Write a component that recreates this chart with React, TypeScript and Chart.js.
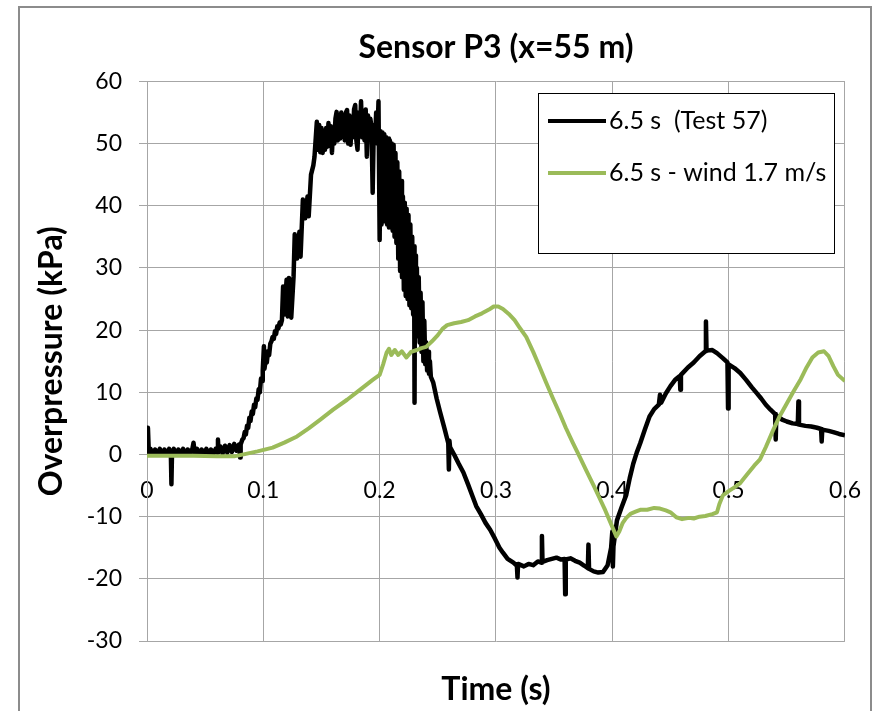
import React, { useEffect, useRef } from "react";
import { Chart, registerables } from "chart.js";

Chart.register(...registerables);

const FONT = "Lato";
const GRID = "#a6a6a6";
const BLACK = "#000000";
const GREEN = "#9bbb59";

const CHART_TITLE = "Sensor P3 (x=55 m)";
const X_TITLE = "Time (s)";
const Y_TITLE = "Overpressure (kPa)";
const SERIES_LABELS = ["6.5 s  (Test 57)", "6.5 s - wind 1.7 m/s"];

const X_TICKS = [0, 0.1, 0.2, 0.3, 0.4, 0.5, 0.6];
const Y_TICKS = [-30, -20, -10, 0, 10, 20, 30, 40, 50, 60];

// Test 57 (black) — [time s, overpressure kPa]
const test57Baseline: [number, number][] = [
  [0, 0.3], [0.0008, 4.3], [0.0016, 0.2], [0.003, 0.9], [0.005, 0.0], [0.007, 0.8], [0.009, 0.1],
  [0.011, 0.9], [0.013, 0.0], [0.015, 0.8], [0.017, 0.1], [0.019, 0.9], [0.0205, 0.2], [0.021, -4.8],
  [0.0215, 0.3], [0.023, 0.9], [0.025, 0.0], [0.027, 0.8], [0.029, 0.1], [0.031, 0.9], [0.033, 0.0],
  [0.035, 0.8], [0.037, 0.2], [0.039, 0.9], [0.04, 1.9], [0.041, 0.1], [0.043, 0.9], [0.045, 0.0],
  [0.047, 0.8], [0.049, 0.1], [0.051, 0.9], [0.053, 0.0], [0.055, 0.8], [0.057, 0.1], [0.059, 0.9],
  [0.0605, 0.3], [0.061, 2.4], [0.0615, 0.4], [0.063, 1.3], [0.065, 0.2], [0.067, 1.4], [0.069, 0.3],
  [0.071, 1.5], [0.073, 0.4], [0.075, 1.7], [0.077, 0.6], [0.079, 1.6], [0.0797, 0.4], [0.08, -0.5],
  [0.0805, 1.6], [0.082, 2.4],
];
const test57Rise: [number, number][] = [
  [0.083, 2.6], [0.084, 3.6], [0.085, 3.2], [0.086, 4.6], [0.087, 4.3], [0.088, 5.9], [0.089, 5.4],
  [0.09, 6.9], [0.091, 6.5], [0.092, 8.0], [0.093, 7.6], [0.094, 9.0], [0.095, 8.8], [0.096, 10.5],
  [0.097, 10.0], [0.098, 12.2], [0.099, 11.8], [0.0995, 13.5], [0.1005, 17.4], [0.101, 13.8],
  [0.102, 15.2], [0.103, 14.8], [0.104, 16.6], [0.105, 16.0], [0.106, 17.8], [0.107, 18.2], [0.108, 18.9],
  [0.109, 18.6], [0.11, 19.8], [0.111, 19.4], [0.112, 20.6], [0.113, 20.3], [0.114, 21.2], [0.115, 20.9],
  [0.116, 21.6], [0.117, 27.0], [0.118, 22.5], [0.12, 28.1], [0.121, 22.2], [0.122, 28.4], [0.124, 22.0],
  [0.126, 28.6], [0.127, 35.4], [0.129, 31.5], [0.131, 35.8], [0.132, 31.8], [0.134, 41.0], [0.136, 38.0],
  [0.138, 41.5], [0.139, 38.3], [0.141, 45.0], [0.143, 46.5], [0.144, 47.9], [0.146, 53.5],
];
const test57Peak: [number, number][] = [
  [0.147, 49.0], [0.148, 53.0], [0.149, 48.6], [0.15, 52.5], [0.151, 48.5], [0.152, 52.0], [0.153, 49.0],
  [0.154, 52.5], [0.155, 49.5], [0.156, 53.3], [0.157, 50.0], [0.158, 52.8], [0.159, 48.5], [0.16, 52.5],
  [0.161, 50.0], [0.162, 54.0], [0.163, 55.1], [0.164, 50.5], [0.165, 54.5], [0.166, 50.8], [0.167, 55.0],
  [0.168, 51.1], [0.169, 54.5], [0.17, 50.5], [0.171, 55.0], [0.172, 55.4], [0.173, 50.0], [0.174, 54.5],
  [0.175, 49.8], [0.176, 54.0], [0.177, 51.0], [0.178, 55.5], [0.179, 56.2], [0.18, 50.5], [0.181, 49.0],
  [0.182, 55.0], [0.183, 51.5], [0.184, 56.8], [0.185, 51.0], [0.186, 55.0], [0.187, 50.5], [0.188, 55.5],
  [0.189, 47.9], [0.19, 54.5], [0.191, 51.0], [0.192, 54.0], [0.193, 52.7], [0.194, 42.1], [0.195, 53.0],
  [0.196, 50.0], [0.197, 55.0], [0.198, 50.5], [0.199, 56.8],
];
const test57Decay: [number, number][] = [
  [0.2, 34.5], [0.2008, 52], [0.2016, 37], [0.2024, 51.8], [0.2032, 38], [0.204, 51.5], [0.2048, 37.5],
  [0.2056, 51], [0.2064, 37], [0.2072, 50.8], [0.208, 36.5], [0.2088, 50.5], [0.2096, 36.5], [0.2104, 50],
  [0.2112, 36], [0.212, 49.8], [0.2128, 35], [0.2136, 48.5], [0.2144, 34], [0.2152, 47], [0.216, 31.5],
  [0.2168, 45.5], [0.2176, 29.5], [0.2184, 44], [0.2192, 28.5], [0.22, 41.5], [0.2208, 26.5], [0.2216, 40.5],
  [0.2224, 25.5], [0.2232, 39.5], [0.224, 25], [0.2248, 38.5], [0.2256, 24], [0.2264, 37], [0.2272, 23.5],
  [0.228, 35], [0.2288, 22.5], [0.2296, 33.5], [0.23, 8.3], [0.2304, 32], [0.2312, 21], [0.232, 30],
  [0.2328, 19], [0.2336, 28.5], [0.2344, 18], [0.2352, 26], [0.236, 16.5], [0.2368, 24.5], [0.2376, 15],
  [0.2384, 21.5], [0.2392, 14.5], [0.24, 18], [0.2408, 13.5], [0.2416, 16.5], [0.2424, 13], [0.2432, 15],
  [0.244, 12.5], [0.246, 11.6],
];
const test57Negative: [number, number][] = [
  [0.249, 9.0], [0.252, 6.8], [0.256, 4.0], [0.259, 1.8], [0.2595, -2.4], [0.26, 2.2], [0.2605, 1.2],
  [0.264, 0.0], [0.268, -1.5], [0.272, -2.9], [0.276, -4.8], [0.28, -6.8], [0.283, -8.3], [0.287, -9.6],
  [0.291, -11.0], [0.295, -12.1], [0.299, -13.5], [0.303, -15.0], [0.306, -15.8], [0.31, -16.8],
  [0.315, -17.4], [0.318, -17.9], [0.3185, -19.8], [0.319, -17.6], [0.324, -18.0], [0.328, -17.6],
  [0.332, -17.8], [0.336, -17.2], [0.339, -17.4], [0.3395, -13.1], [0.34, -17.3], [0.344, -17.0],
  [0.348, -16.8], [0.352, -16.6], [0.356, -16.9], [0.359, -16.8], [0.3595, -22.5], [0.36, -16.9],
  [0.364, -16.7], [0.368, -17.1], [0.372, -17.4], [0.376, -17.9], [0.379, -18.3], [0.3795, -14.5],
  [0.38, -18.4], [0.384, -18.8], [0.388, -19.0], [0.392, -18.9], [0.396, -17.8], [0.399, -15.0],
  [0.4, -12.4], [0.4005, -18.0], [0.401, -14.8],
];
const test57Second: [number, number][] = [
  [0.404, -10.6], [0.408, -8.5], [0.412, -6.5], [0.415, -3.8], [0.418, -1.5], [0.421, 0.3], [0.424, 1.8],
  [0.428, 4.0], [0.432, 6.1], [0.436, 7.3], [0.44, 8.0], [0.441, 9.6], [0.442, 8.3], [0.446, 9.8],
  [0.45, 11.0], [0.454, 12.0], [0.458, 12.6], [0.4585, 10.4], [0.459, 12.8], [0.465, 14.0], [0.47, 14.8],
  [0.475, 15.8], [0.48, 16.6], [0.4805, 21.4], [0.481, 16.7], [0.486, 16.8], [0.49, 16.3], [0.495, 15.5],
  [0.499, 14.8], [0.4995, 7.4], [0.5, 14.5], [0.505, 13.9], [0.51, 13.1], [0.515, 12.0], [0.52, 10.8],
  [0.524, 9.9], [0.528, 9.0], [0.532, 8.0], [0.536, 7.2], [0.54, 6.5], [0.5405, 2.4], [0.541, 6.3],
  [0.546, 5.6], [0.55, 5.3], [0.555, 5.0], [0.5595, 4.9], [0.56, 8.5], [0.5605, 4.8], [0.566, 4.6],
  [0.571, 4.5], [0.576, 4.3], [0.5795, 4.1], [0.58, 2.1], [0.5805, 4.0], [0.586, 3.8], [0.59, 3.6],
  [0.595, 3.3], [0.6, 3.1],
];

// 6.5 s - wind 1.7 m/s (green) — [time s, overpressure kPa]
const windSeries: [number, number][] = [
  [0, -0.2], [0.02, -0.2], [0.04, -0.2], [0.06, -0.3], [0.075, -0.3], [0.085, 0.1], [0.095, 0.5],
  [0.108, 1.1], [0.118, 1.9], [0.129, 2.9], [0.139, 4.2], [0.149, 5.6], [0.16, 7.2], [0.172, 8.8],
  [0.183, 10.4], [0.194, 12.0], [0.2, 12.8], [0.203, 14.5], [0.206, 16.4], [0.208, 17.0], [0.21, 16.0],
  [0.213, 16.8], [0.216, 16.0], [0.219, 16.6], [0.223, 15.6], [0.227, 16.5], [0.232, 16.8], [0.236, 17.1],
  [0.24, 17.3], [0.245, 18.2], [0.25, 19.2], [0.254, 20.2], [0.258, 20.8], [0.264, 21.1], [0.27, 21.3],
  [0.276, 21.6], [0.282, 22.2], [0.288, 22.7], [0.294, 23.3], [0.298, 23.8], [0.302, 23.8], [0.306, 23.4],
  [0.311, 22.6], [0.316, 21.6], [0.32, 20.5], [0.326, 18.9], [0.332, 16.5], [0.337, 14.3], [0.343, 11.6],
  [0.349, 9.0], [0.355, 6.5], [0.36, 4.3], [0.366, 1.9], [0.372, -0.4], [0.378, -2.7], [0.384, -5.0],
  [0.389, -7.0], [0.394, -9.0], [0.399, -11.2], [0.4035, -13.2], [0.406, -12.4], [0.409, -11.0],
  [0.412, -10.2], [0.416, -9.5], [0.42, -9.2], [0.424, -8.9], [0.43, -8.9], [0.436, -8.6], [0.441, -8.7],
  [0.446, -9.0], [0.45, -9.3], [0.455, -10.1], [0.46, -10.4], [0.466, -10.2], [0.47, -10.3], [0.475, -10.0],
  [0.48, -9.9], [0.486, -9.6], [0.49, -9.3], [0.492, -8.0], [0.495, -6.6], [0.5, -5.9], [0.505, -5.3],
  [0.51, -4.6], [0.516, -3.2], [0.522, -1.8], [0.527, -0.8], [0.532, 1.2], [0.538, 3.8], [0.544, 6.2],
  [0.55, 8.2], [0.556, 10.2], [0.562, 12.1], [0.567, 14.0], [0.572, 15.6], [0.577, 16.4], [0.582, 16.6],
  [0.586, 15.8], [0.59, 14.2], [0.594, 12.8], [0.6, 11.8],
];

const test57Series = [
  ...test57Baseline, ...test57Rise, ...test57Peak, ...test57Decay, ...test57Negative, ...test57Second,
];

const toPoints = (arr: [number, number][]) => arr.map(([x, y]) => ({ x, y }));

const framePlugin = {
  id: "frame",
  beforeDraw(chart: any) {
    const { ctx, width, height } = chart;
    ctx.save();
    ctx.fillStyle = "#ffffff";
    ctx.fillRect(0, 0, width, height);
    ctx.strokeStyle = "#8c8c8c";
    ctx.lineWidth = 2;
    ctx.strokeRect(19, 7, 852, height + 20);
    ctx.restore();
  },
};

const legendPlugin = {
  id: "boxLegend",
  afterDraw(chart: any) {
    const { ctx } = chart;
    const left = 538, top = 93, w = 296, h = 160;
    ctx.save();
    ctx.fillStyle = "#ffffff";
    ctx.fillRect(left, top, w, h);
    ctx.strokeStyle = "#000000";
    ctx.lineWidth = 1;
    ctx.strokeRect(left + 0.5, top + 0.5, w, h);
    const rows = [121, 173];
    chart.data.datasets.forEach((ds: any, i: number) => {
      const y = rows[i];
      ctx.strokeStyle = ds.borderColor;
      ctx.lineWidth = 4;
      ctx.beginPath();
      ctx.moveTo(548, y);
      ctx.lineTo(606, y);
      ctx.stroke();
      ctx.fillStyle = "#000000";
      ctx.font = `25px ${FONT}`;
      ctx.textBaseline = "middle";
      ctx.textAlign = "left";
      ctx.fillText(ds.label, 609, y);
    });
    ctx.restore();
  },
};

export default function App() {
  const canvasRef = useRef<HTMLCanvasElement | null>(null);

  useEffect(() => {
    let chart: Chart | null = null;
    let cancelled = false;
    const make = () => {
      if (cancelled || !canvasRef.current) return;
      chart = new Chart(canvasRef.current, {
        type: "line",
        data: {
          datasets: [
            {
              label: SERIES_LABELS[0],
              data: toPoints(test57Series),
              borderColor: BLACK,
              backgroundColor: BLACK,
              borderWidth: 4.5,
              pointRadius: 0,
              tension: 0,
              borderJoinStyle: "round",
              order: 1,
            },
            {
              label: SERIES_LABELS[1],
              data: toPoints(windSeries),
              borderColor: GREEN,
              backgroundColor: GREEN,
              borderWidth: 4,
              pointRadius: 0,
              tension: 0,
              borderJoinStyle: "round",
              order: 0,
            },
          ],
        },
        options: {
          animation: false,
          responsive: false,
          devicePixelRatio: 1,
          layout: { padding: { left: 0, right: 38, top: 0, bottom: 0 } },
          scales: {
            x: {
              type: "linear",
              min: 0,
              max: 0.6,
              position: { y: 0 } as any,
              afterBuildTicks: (s: any) => {
                s.ticks = X_TICKS.map((value) => ({ value }));
              },
              afterFit: (s: any) => {
                s.height = 1;
              },
              grid: { color: GRID, lineWidth: 1, drawTicks: false },
              border: { display: true, color: GRID },
              ticks: {
                padding: 22,
                autoSkip: false,
                maxRotation: 0,
                color: "#000000",
                font: { family: FONT, size: 23 },
                callback: (v: any) => String(Number(Number(v).toFixed(1))),
              },
            },
            y: {
              type: "linear",
              min: -30,
              max: 60,
              afterBuildTicks: (s: any) => {
                s.ticks = Y_TICKS.map((value) => ({ value }));
              },
              afterFit: (s: any) => {
                s.width = 147;
              },
              grid: { color: GRID, lineWidth: 1, drawTicks: true, tickLength: 8 },
              border: { display: true, color: GRID },
              ticks: {
                padding: 17,
                color: "#000000",
                font: { family: FONT, size: 23 },
              },
              title: {
                display: true,
                text: Y_TITLE,
                color: "#000000",
                font: { family: FONT, size: 32, weight: "bold" },
                padding: { top: 32, bottom: 0 },
              },
            },
          },
          plugins: {
            legend: { display: false },
            tooltip: { enabled: false },
            title: {
              display: true,
              text: CHART_TITLE,
              fullSize: false,
              color: "#000000",
              font: { family: FONT, size: 32, weight: "bold" },
              padding: { top: 28, bottom: 15 },
            },
            subtitle: {
              display: true,
              text: X_TITLE,
              position: "bottom",
              fullSize: false,
              color: "#000000",
              font: { family: FONT, size: 32, weight: "bold" },
              padding: { top: 29.8, bottom: 1.8 },
            },
          },
        },
        plugins: [framePlugin, legendPlugin],
      } as any);
    };
    Promise.all([
      document.fonts.load(`23px ${FONT}`),
      document.fonts.load(`bold 32px ${FONT}`),
    ]).then(make, make);
    return () => {
      cancelled = true;
      if (chart) chart.destroy();
    };
  }, []);

  return (
    <div style={{ position: "absolute", left: 0, top: 0, width: 883, height: 711 }}>
      <canvas ref={canvasRef} width={883} height={711} style={{ display: "block" }} />
    </div>
  );
}
